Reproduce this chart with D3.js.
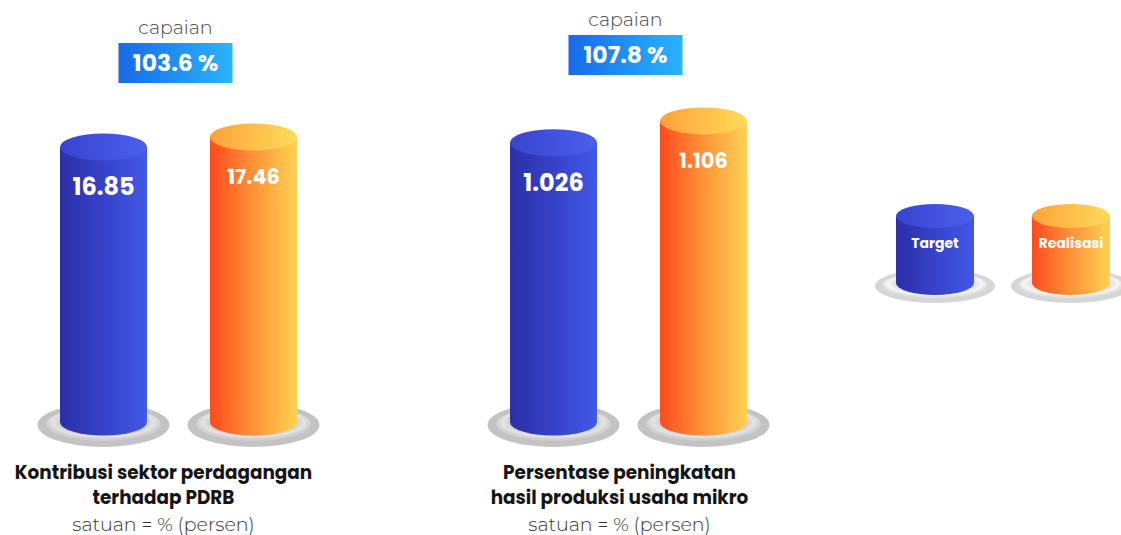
<!DOCTYPE html>
<html>
<head>
<meta charset="utf-8">
<script src="https://cdn.jsdelivr.net/npm/d3@7"></script>
<style>
  body { margin: 0; background: #fff; }
  svg { display: block; }
</style>
</head>
<body>
<div id="chart"></div>
<script>
// data
var series = ["Target", "Realisasi"];
var titleLines = [
  ["Kontribusi sektor perdagangan", "terhadap PDRB"],
  ["Persentase peningkatan", "hasil produksi usaha mikro"]
];
var unitLabels = ["satuan = % (persen)", "satuan = % (persen)"];
var targetValues = [16.85, 1.026];
var realisasiValues = [17.46, 1.106];
var capaianValues = [103.6, 107.8];
var scaleMax = [25.86, 1.55];

var width = 1121, height = 535;
var base = 422;          // y of bottom ellipse centre
var ry = 13.5;
var boxTop = [43, 35];   // capaian box per group
var titleShift = [0, 6];
var valueFont = [24, 21];

var svg = d3.select("#chart").append("svg")
  .attr("width", width)
  .attr("height", height);

var defs = svg.append("defs");

function hGrad(id, stops) {
  var g = defs.append("linearGradient").attr("id", id)
    .attr("x1", "0%").attr("x2", "100%").attr("y1", "0%").attr("y2", "0%");
  stops.forEach(function(s) {
    g.append("stop").attr("offset", s[0]).attr("stop-color", s[1]);
  });
}
hGrad("body0", [["0%", "#2c2fa6"], ["55%", "#3744cc"], ["100%", "#4159e6"]]);
hGrad("top0", [["0%", "#3943cf"], ["100%", "#4a60ec"]]);
hGrad("body1", [["0%", "#ff4b1c"], ["45%", "#ff8c36"], ["100%", "#ffd252"]]);
hGrad("top1", [["0%", "#ffa23a"], ["100%", "#ffdb5a"]]);
hGrad("box", [["0%", "#176ae8"], ["100%", "#2bb4fc"]]);

var rg = defs.append("radialGradient").attr("id", "plateIn")
  .attr("cx", "50%").attr("cy", "45%").attr("r", "50%");
[["0%", "#9a9a9a"], ["60%", "#b4b4b4"], ["88%", "#e4e4e4"], ["100%", "#cfcfcf"]].forEach(function(s) {
  rg.append("stop").attr("offset", s[0]).attr("stop-color", s[1]);
});
var rg2 = defs.append("radialGradient").attr("id", "plateLeg")
  .attr("cx", "50%").attr("cy", "45%").attr("r", "50%");
[["0%", "#bdbdbd"], ["65%", "#d0d0d0"], ["90%", "#f6f6f6"], ["100%", "#e2e2e2"]].forEach(function(s) {
  rg2.append("stop").attr("offset", s[0]).attr("stop-color", s[1]);
});

var boldFont = "Poppins, Inter, 'Noto Sans', sans-serif";
var lightFont = "Montserrat, Lato, 'Open Sans', sans-serif";

/* Scales */
var groupScale = d3.scaleBand()
  .domain(d3.range(titleLines.length))
  .range([60, 960]);

var xScale = d3.scaleBand()
  .domain(series)
  .range([0, 237])
  .paddingInner(0.42);

var yScales = scaleMax.map(function(m) {
  return d3.scaleLinear().domain([0, m]).range([base, 0]);
});

function cylinder(g, cx, topY, botY, rx, r, idx) {
  g.append("path")
    .attr("d", "M" + (cx - rx) + "," + topY +
      " L" + (cx - rx) + "," + botY +
      " A" + rx + "," + r + " 0 0 0 " + (cx + rx) + "," + botY +
      " L" + (cx + rx) + "," + topY + " Z")
    .attr("fill", "url(#body" + idx + ")");
  g.append("ellipse")
    .attr("cx", cx).attr("cy", topY)
    .attr("rx", rx).attr("ry", r)
    .attr("fill", "url(#top" + idx + ")");
}

function plate(g, cx, cy, rx, r, fillIn, fillOut) {
  g.append("ellipse")
    .attr("cx", cx).attr("cy", cy).attr("rx", rx).attr("ry", r)
    .attr("fill", fillOut);
  g.append("ellipse")
    .attr("cx", cx).attr("cy", cy - 1).attr("rx", rx * 0.87).attr("ry", r * 0.76)
    .attr("fill", fillIn);
}

titleLines.forEach(function(lines, gi) {
  var g = svg.append("g")
    .attr("transform", "translate(" + groupScale(gi) + ",0)");
  var y = yScales[gi];
  var vals = [targetValues[gi], realisasiValues[gi]];
  var bw = xScale.bandwidth();

  series.forEach(function(s, si) {
    var cx = xScale(s) + bw / 2;
    plate(g, cx, base + 3, 66, 22, "url(#plateIn)", "#c3c3c3");
  });

  series.forEach(function(s, si) {
    var cx = xScale(s) + bw / 2;
    var top = y(vals[si]);
    cylinder(g, cx, top, base, bw / 2, ry, si);
    g.append("text")
      .attr("x", cx)
      .attr("y", top + 40)
      .attr("dy", "0.35em")
      .attr("text-anchor", "middle")
      .attr("fill", "#fff")
      .style("font-family", boldFont)
      .style("font-weight", 700)
      .style("font-size", valueFont[si] + "px")
      .text(vals[si]);
  });

  var mid = xScale.range()[1] / 2 - 3;

  g.append("text")
    .attr("x", mid)
    .attr("y", boxTop[gi] - 16)
    .attr("dy", "0.35em")
    .attr("text-anchor", "middle")
    .attr("fill", "#444")
    .style("font-family", lightFont)
    .style("font-weight", 300)
    .style("font-size", "19px")
    .text("capaian");

  g.append("rect")
    .attr("x", mid - 57)
    .attr("y", boxTop[gi])
    .attr("width", 114)
    .attr("height", 40)
    .attr("fill", "url(#box)");

  g.append("text")
    .attr("x", mid)
    .attr("y", boxTop[gi] + 20)
    .attr("dy", "0.35em")
    .attr("text-anchor", "middle")
    .attr("fill", "#fff")
    .style("font-family", boldFont)
    .style("font-weight", 700)
    .style("font-size", "23.5px")
    .text(capaianValues[gi].toFixed(1) + " %");

  var tx = mid - 12 + titleShift[gi];
  lines.forEach(function(line, li) {
    g.append("text")
      .attr("x", tx)
      .attr("y", 473 + li * 25)
      .attr("dy", "0.35em")
      .attr("text-anchor", "middle")
      .attr("fill", "#151515")
      .style("font-family", boldFont)
      .style("font-weight", 700)
      .style("font-size", "18.4px")
      .text(line);
  });

  g.append("text")
    .attr("x", tx)
    .attr("y", 524)
    .attr("dy", "0.35em")
    .attr("text-anchor", "middle")
    .attr("fill", "#333")
    .style("font-family", lightFont)
    .style("font-weight", 300)
    .style("font-size", "19px")
    .text(unitLabels[gi]);
});

/* Legend */
var legendX = d3.scalePoint()
  .domain(series)
  .range([935, 1071]);

var legend = svg.append("g").attr("class", "legend");
series.forEach(function(s, si) {
  var cx = legendX(s);
  plate(legend, cx, 286, 60, 17, "url(#plateLeg)", "#d6d6d6");
});
series.forEach(function(s, si) {
  var cx = legendX(s);
  cylinder(legend, cx, 216, 283, 39, 12, si);
  legend.append("text")
    .attr("x", cx)
    .attr("y", 243)
    .attr("dy", "0.35em")
    .attr("text-anchor", "middle")
    .attr("fill", "#fff")
    .style("font-family", boldFont)
    .style("font-weight", 700)
    .style("font-size", "14px")
    .text(s);
});
</script>
</body>
</html>
